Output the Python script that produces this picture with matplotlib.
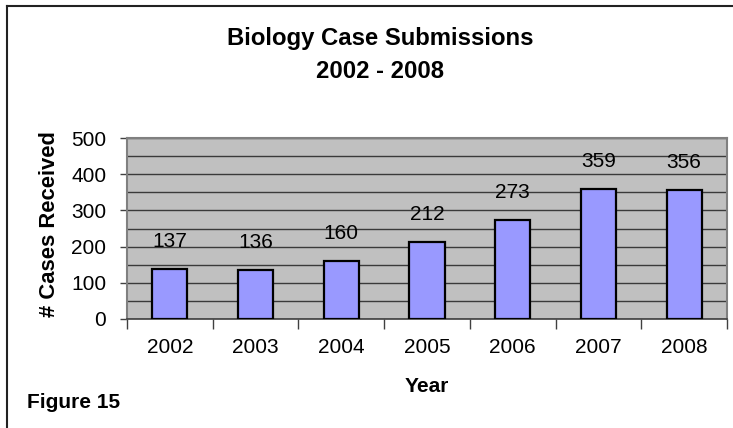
import matplotlib.pyplot as plt
from matplotlib.lines import Line2D
from matplotlib.ticker import MultipleLocator

years = ["2002", "2003", "2004", "2005", "2006", "2007", "2008"]
cases = [137, 136, 160, 212, 273, 359, 356]

plt.rcParams["font.family"] = ["Liberation Sans", "DejaVu Sans"]

W, H = 733, 428
fig = plt.figure(figsize=(W / 100, H / 100), dpi=100)
ax = fig.add_axes([127 / W, 1 - 319 / H, 600 / W, 181 / H])

x = range(len(years))
ax.bar(x, cases, width=0.41, color="#9999FF", edgecolor="black",
       linewidth=1.6, zorder=3)
for xi, v in zip(x, cases):
    ax.annotate(str(v), (xi, v), xytext=(0, 16), textcoords="offset points",
                ha="center", va="baseline", fontsize=15)

ax.set_facecolor("#C0C0C0")
ax.set_xlim(-0.5, len(years) - 0.5)
ax.set_ylim(0, 500)
ax.yaxis.set_major_locator(MultipleLocator(100))
ax.yaxis.set_minor_locator(MultipleLocator(50))
ax.grid(True, which="both", axis="y", color="#3a3a3a", linewidth=1, zorder=1)
ax.set_axisbelow(True)

ax.set_xticks(list(x))
ax.set_xticklabels(years)
ax.set_xticks([i - 0.5 for i in range(len(years) + 1)], minor=True)
ax.tick_params(axis="x", which="major", length=0, labelsize=15, pad=14)
ax.tick_params(axis="x", which="minor", length=7, width=1, color="#404040")
ax.tick_params(axis="y", which="major", length=5, width=1, color="#404040",
               labelsize=15, pad=10)
ax.tick_params(axis="y", which="minor", length=0)

for side in ["left", "top", "right"]:
    ax.spines[side].set_color("#808080")
    ax.spines[side].set_linewidth(1.5)
ax.spines["bottom"].set_color("#404040")
ax.spines["bottom"].set_linewidth(1.2)

fig.text(50 / W, 1 - 224 / H, "# Cases Received", rotation=90,
         ha="center", va="center", fontsize=15.8, fontweight="bold")
fig.text(427 / W, 1 - 387 / H, "Year", ha="center", va="center",
         fontsize=15, fontweight="bold")
fig.text(380 / W, 1 - 38 / H, "Biology Case Submissions", ha="center",
         va="center", fontsize=17.2, fontweight="bold")
fig.text(380 / W, 1 - 71 / H, "2002 - 2008", ha="center",
         va="center", fontsize=17.2, fontweight="bold")
fig.text(27 / W, 1 - 402 / H, "Figure 15", ha="left", va="center",
         fontsize=15, fontweight="bold")

# outer frame (left and top edges visible)
fig.add_artist(Line2D([7 / W, 7 / W], [0, 1 - 6 / H], color="#222222",
                      linewidth=1.5, transform=fig.transFigure))
fig.add_artist(Line2D([7 / W, 1], [1 - 6 / H, 1 - 6 / H], color="#222222",
                      linewidth=1.5, transform=fig.transFigure))

fig.savefig("out.png", dpi=100)
